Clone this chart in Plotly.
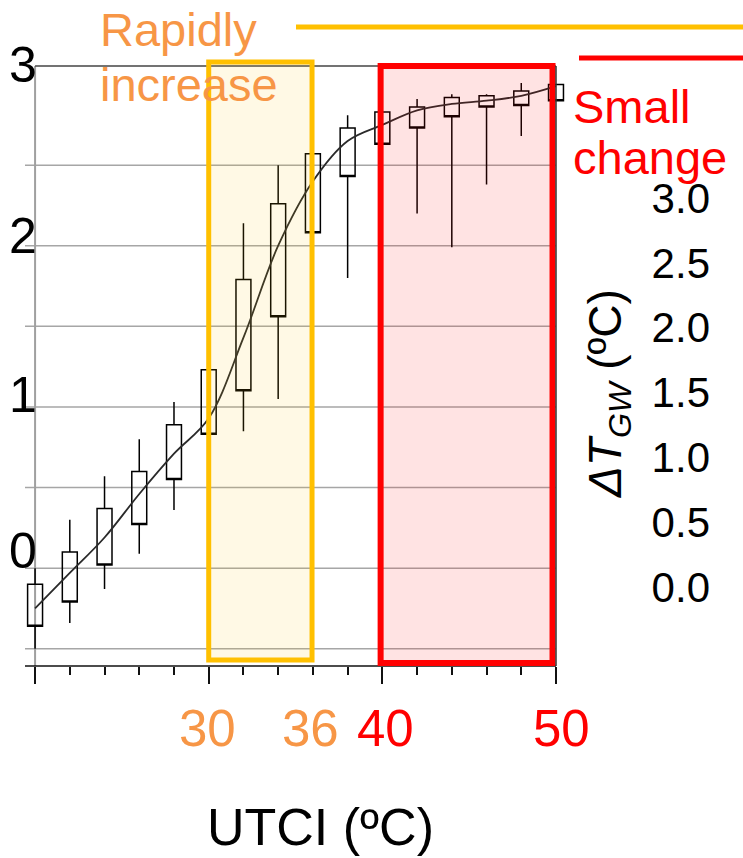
import plotly.graph_objects as go

# ---------------- data ----------------
utci = [20, 22, 24, 26, 28, 30, 32, 34, 36, 38, 40, 42, 44, 46, 48, 50]
box_low = [-0.36, -0.21, 0.02, 0.27, 0.55, 0.83, 1.10, 1.56, 2.08, 2.43, 2.63, 2.73, 2.80, 2.86, 2.87, 2.90]
box_high = [-0.10, 0.10, 0.37, 0.60, 0.89, 1.23, 1.79, 2.26, 2.57, 2.73, 2.83, 2.86, 2.92, 2.93, 2.96, 3.00]
whisk_low = [-0.50, -0.34, -0.13, 0.09, 0.36, 0.83, 0.85, 1.05, 2.08, 1.80, 2.63, 2.20, 1.99, 2.38, 2.68, 2.90]
whisk_high = [0.00, 0.30, 0.57, 0.80, 1.03, 1.23, 2.14, 2.50, 2.57, 2.81, 2.83, 2.91, 2.94, 2.94, 3.01, 3.00]
mean_curve = [-0.25, -0.03, 0.19, 0.46, 0.71, 0.93, 1.43, 2.00, 2.40, 2.65, 2.75, 2.84, 2.88, 2.90, 2.93, 2.99]

left_tick_text = ["3", "2", "1", "0"]
right_tick_vals = [0.0, 0.5, 1.0, 1.5, 2.0, 2.5, 3.0]
grid_vals = [-0.5, 0.0, 0.5, 1.0, 1.5, 2.0, 2.5]
x_labels = ["30", "36", "40", "50"]

W, H = 743, 858
FONT = "Liberation Sans, Arial, Helvetica, sans-serif"
ORANGE_TXT = "#F79646"
ORANGE = "#FFC000"
RED = "#FF0000"
X0, X1 = 19.42, 50.6
PX_PER_UNIT = (556 - 25) / (50 - X0)
XR_PX = 25 + (X1 - X0) * PX_PER_UNIT


def px(xp):
    return xp / W


def py(yp):
    return 1 - yp / H


def xd(v):
    return (v - X0) / (X1 - X0)


fig = go.Figure()

fig.add_trace(go.Box(
    x=utci, q1=box_low, q3=box_high, median=box_low,
    lowerfence=whisk_low, upperfence=whisk_high,
    width=0.86, whiskerwidth=0,
    line=dict(color="black", width=1.5),
    fillcolor="rgba(0,0,0,0)",
    boxpoints=False, showlegend=False, hoverinfo="skip",
))

fig.add_trace(go.Scatter(
    x=utci, y=mean_curve, mode="lines",
    line=dict(color="#2a2a2a", width=1.8, shape="spline", smoothing=1),
    showlegend=False, hoverinfo="skip",
))

# dummy trace for the right-hand axis
fig.add_trace(go.Scatter(
    x=[0], y=[0], xaxis="x2", yaxis="y2", mode="markers",
    marker=dict(opacity=0), showlegend=False, hoverinfo="skip",
))

fig.update_layout(
    width=W, height=H,
    margin=dict(l=0, r=0, t=0, b=0, autoexpand=False),
    paper_bgcolor="white", plot_bgcolor="white",
    font=dict(family=FONT, color="black"),
    xaxis=dict(
        domain=[px(25), px(XR_PX)], range=[X0, X1],
        showline=False,
        ticks="outside", tickmode="linear", tick0=20, dtick=10,
        ticklen=17, tickwidth=1.5, tickcolor="#111111",
        minor=dict(tickmode="linear", tick0=20, dtick=2, ticks="outside",
                   ticklen=8, tickwidth=1.5, tickcolor="#111111"),
        showticklabels=False, showgrid=False, zeroline=False,
    ),
    yaxis=dict(
        domain=[py(666), py(66)], range=[-0.607, 3.115],
        showline=False, ticks="", showticklabels=False, showgrid=False,
        zeroline=False,
    ),
    xaxis2=dict(domain=[px(711), px(740)], visible=False, anchor="y2", range=[0, 1]),
    yaxis2=dict(
        domain=[py(587), py(198)], range=[0, 3], anchor="x2", side="left",
        tickmode="array", tickvals=right_tick_vals,
        ticktext=[f"{v:.1f}" for v in right_tick_vals],
        tickfont=dict(size=42, color="black", family=FONT),
        showline=False, showgrid=False, zeroline=False, ticks="",
    ),
)

shapes = []
# horizontal grid lines (extend slightly left of the axis, end at x=50)
for g in grid_vals:
    shapes.append(dict(type="line", xref="x domain", yref="y", x0=0, x1=xd(50), y0=g, y1=g,
                       line=dict(color="#A6A6A6", width=1.5), layer="below"))
shapes += [
    # left (gray) axis line at x=20
    dict(type="line", xref="x domain", yref="y domain", x0=xd(20), x1=xd(20), y0=0, y1=1,
         line=dict(color="#A0A0A0", width=2), layer="below"),
    # bottom axis line
    dict(type="line", xref="x domain", yref="y domain", x0=0, x1=xd(50), y0=0, y1=0,
         line=dict(color="#111111", width=1.5)),
    # top border
    dict(type="line", xref="x domain", yref="y domain", x0=xd(20), x1=xd(50), y0=1, y1=1,
         line=dict(color="#444444", width=1.5)),
    # orange region
    dict(type="rect", xref="x domain", yref="y domain",
         x0=xd(30), x1=xd(35.95), y0=0.01, y1=1.0067,
         line=dict(color=ORANGE, width=5), fillcolor="rgba(255,192,0,0.10)"),
    # red region
    dict(type="rect", xref="x domain", yref="y domain",
         x0=xd(39.9), x1=xd(49.8), y0=0.005, y1=1.0,
         line=dict(color=RED, width=6), fillcolor="rgba(255,0,0,0.11)"),
    # right border
    dict(type="line", xref="x domain", yref="y domain", x0=xd(50), x1=xd(50), y0=0, y1=1,
         line=dict(color="#333333", width=1.5)),
    # top bars
    dict(type="line", xref="paper", yref="paper", x0=px(296), x1=1, y0=py(27), y1=py(27),
         line=dict(color=ORANGE, width=5)),
    dict(type="line", xref="paper", yref="paper", x0=px(579), x1=1, y0=py(58), y1=py(58),
         line=dict(color=RED, width=5)),
]
fig.update_layout(shapes=shapes)

ann = []
# left tick labels
for t, yc in zip(left_tick_text, [65, 236, 395, 551]):
    ann.append(dict(text=t, x=px(39), y=py(yc), xref="paper", yref="paper",
                    xanchor="right", yanchor="middle", showarrow=False,
                    font=dict(size=50, color="black", family=FONT)))
# x labels
for t, xc, col in zip(x_labels, [207, 310, 385, 561], [ORANGE_TXT, ORANGE_TXT, RED, RED]):
    ann.append(dict(text=t, x=px(xc), y=py(728), xref="paper", yref="paper",
                    xanchor="center", yanchor="middle", showarrow=False,
                    font=dict(size=51, color=col, family=FONT)))
# axis titles
ann.append(dict(text="UTCI (ºC)", x=px(320), y=py(827), xref="paper", yref="paper",
                xanchor="center", yanchor="middle", showarrow=False,
                font=dict(size=52, color="black", family=FONT)))
ann.append(dict(text="<i>ΔT</i><sub><i>GW</i></sub> (ºC)", x=px(608), y=py(394),
                xref="paper", yref="paper", xanchor="center", yanchor="middle",
                textangle=-90, showarrow=False,
                font=dict(size=46, color="black", family=FONT)))
# region labels
for t, xl, yc, col in [("Rapidly", 98, 29, ORANGE_TXT), ("increase", 98, 84, ORANGE_TXT),
                       ("Small", 571, 106, RED), ("change", 571, 158, RED)]:
    ann.append(dict(text=t, x=px(xl), y=py(yc), xref="paper", yref="paper",
                    xanchor="left", yanchor="middle", showarrow=False,
                    font=dict(size=47, color=col, family=FONT)))
fig.update_layout(annotations=ann)

fig.write_html("out.html")
